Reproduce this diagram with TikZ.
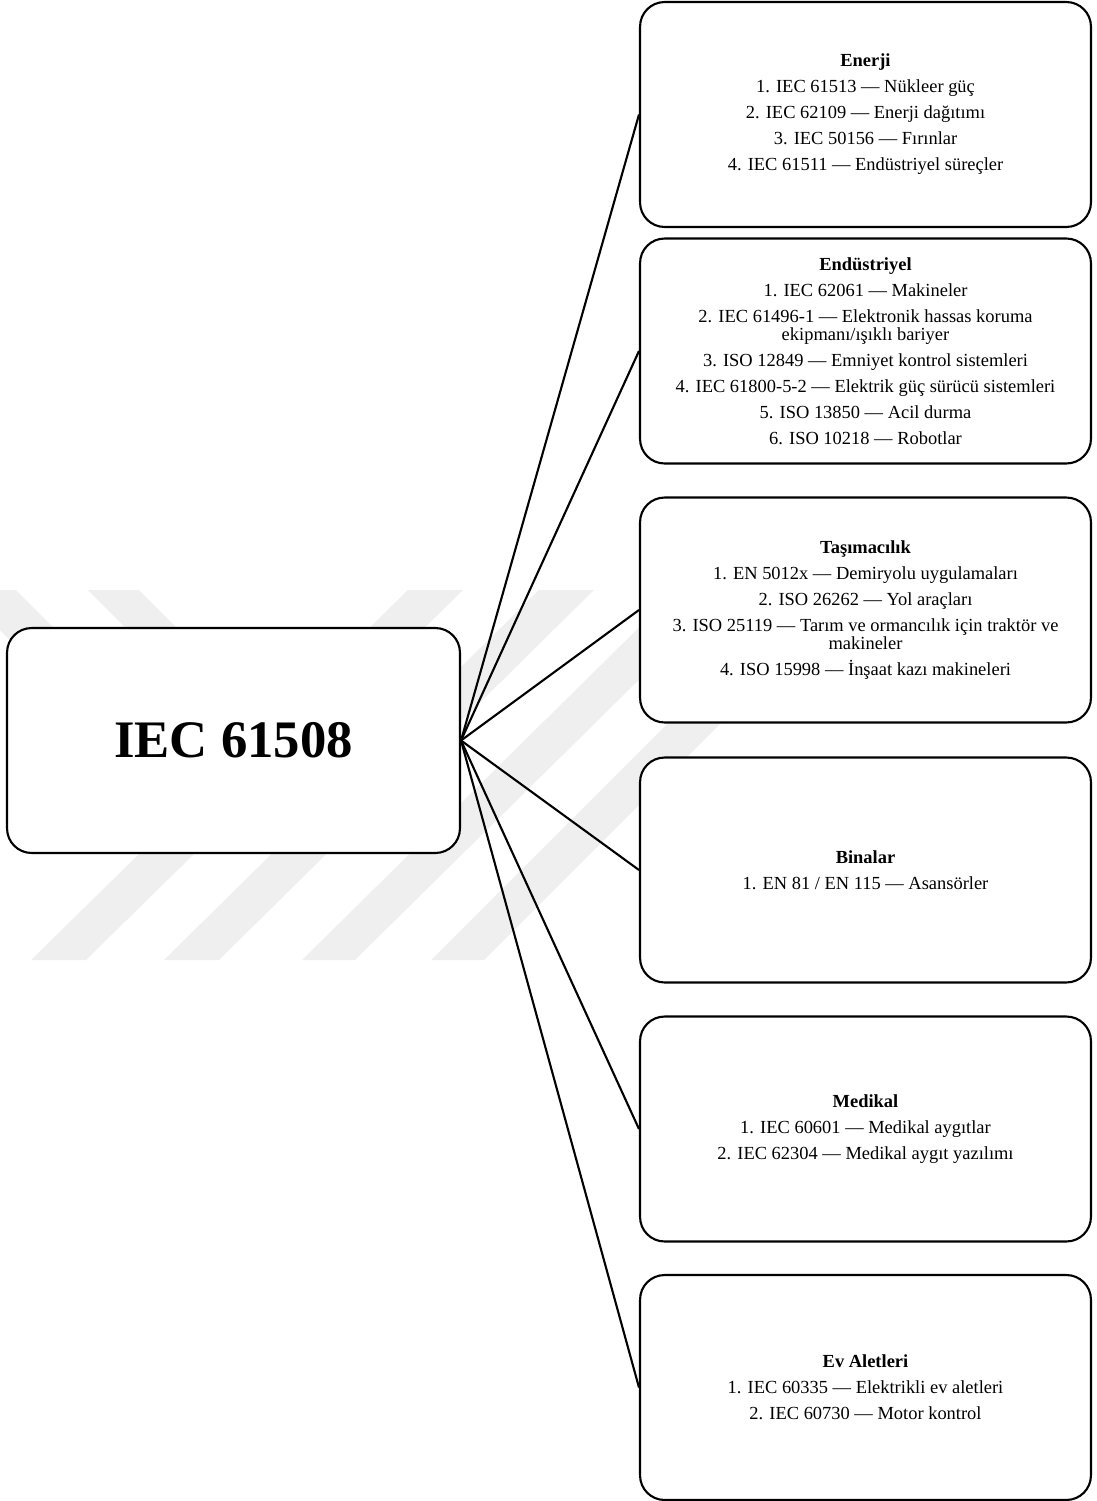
\documentclass[tikz,border=0pt]{standalone}
\usepackage{fontspec}
\setmainfont{Liberation Serif}

\definecolor{wmgray}{HTML}{EFEFEF}

\begin{document}
\begin{tikzpicture}[x=0.02cm, y=-0.02cm,
    hubbox/.style={draw, line width=1.2pt, rounded corners=14pt, fill=white,
        minimum width=9.06cm, minimum height=4.5cm,
        font=\fontsize{30}{36}\selectfont\bfseries},
    catbox/.style={draw, line width=1.2pt, rounded corners=14pt, fill=white,
        minimum width=9.02cm, minimum height=4.5cm, align=center,
        font=\fontsize{10.5}{14.8}\selectfont},
    link/.style={line width=1.2pt}]
    \useasboundingbox (0,0) rectangle (1096,1501);

    % Background watermark stripes
    \begin{scope}
        \clip (0,0) rectangle (1096,1501);
        \fill[wmgray] (-40,590) -- (16,590) -- (66,640) -- (10,640) -- cycle;
        \fill[wmgray] (88,590) -- (139,590) -- (249,700) -- (198,700) -- cycle;
        \fill[wmgray] (408,590) -- (463,590) -- (86,960) -- (31,960) -- cycle;
        \fill[wmgray] (539,590) -- (594,590) -- (219,960) -- (164,960) -- cycle;
        \fill[wmgray] (677,590) -- (730,590) -- (355,960) -- (302,960) -- cycle;
        \fill[wmgray] (801,590) -- (854,590) -- (484,960) -- (431,960) -- cycle;
    \end{scope}

    % Centre: the standard
    \node[hubbox] (hub) at (233.5,740.5) {IEC 61508};

    % Right column: sectors
    \node[catbox] (enerji) at (865.5,114.5) {\textbf{Enerji}\\
        1. IEC 61513 — Nükleer güç\\
        2. IEC 62109 — Enerji dağıtımı\\
        3. IEC 50156 — Fırınlar\\
        4. IEC 61511 — Endüstriyel süreçler};

    \node[catbox] (endustri) at (865.5,351) {\textbf{Endüstriyel}\\
        1. IEC 62061 — Makineler\\
        2. IEC 61496-1 — Elektronik hassas koruma\\[-4.6pt]
        ekipmanı/ışıklı bariyer\\
        3. ISO 12849 — Emniyet kontrol sistemleri\\
        4. IEC 61800-5-2 — Elektrik güç sürücü sistemleri\\
        5. ISO 13850 — Acil durma\\
        6. ISO 10218 — Robotlar};

    \node[catbox] (tasima) at (865.5,610) {\textbf{Taşımacılık}\\
        1. EN 5012x — Demiryolu uygulamaları\\
        2. ISO 26262 — Yol araçları\\
        3. ISO 25119 — Tarım ve ormancılık için traktör ve\\[-4.6pt]
        makineler\\
        4. ISO 15998 — İnşaat kazı makineleri};

    \node[catbox] (binalar) at (865.5,870) {\textbf{Binalar}\\
        1. EN 81 / EN 115 — Asansörler};

    \node[catbox] (medikal) at (865.5,1129) {\textbf{Medikal}\\
        1. IEC 60601 — Medikal aygıtlar\\
        2. IEC 62304 — Medikal aygıt yazılımı};

    \node[catbox] (evalet) at (865.5,1387.5) {\textbf{Ev Aletleri}\\
        1. IEC 60335 — Elektrikli ev aletleri\\
        2. IEC 60730 — Motor kontrol};

    % Fan of links
    \draw[link] (hub.east) -- (enerji.west);
    \draw[link] (hub.east) -- (endustri.west);
    \draw[link] (hub.east) -- (tasima.west);
    \draw[link] (hub.east) -- (binalar.west);
    \draw[link] (hub.east) -- (medikal.west);
    \draw[link] (hub.east) -- (evalet.west);
\end{tikzpicture}
\end{document}
